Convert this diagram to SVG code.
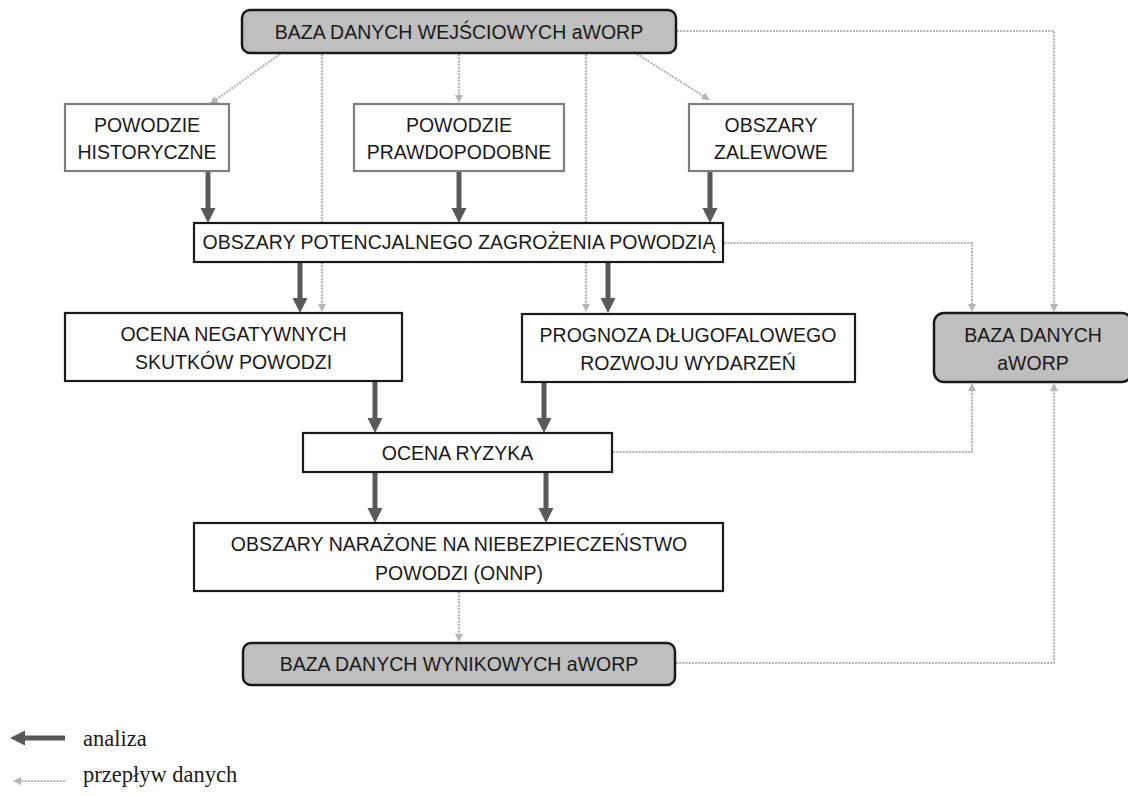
<svg xmlns="http://www.w3.org/2000/svg" width="1128" height="796" viewBox="0 0 1128 796">
<style>
.t{font-family:"Liberation Sans",Arial,sans-serif;font-size:19.5px;fill:#1a1a1a;text-anchor:middle}
.lg{font-family:"Liberation Serif","Times New Roman",serif;font-size:22.5px;fill:#1a1a1a}
.db{fill:#bfbfbf;stroke:#1a1a1a;stroke-width:2.5}
.bk{fill:#fff;stroke:#1a1a1a;stroke-width:2.2}
.gr{fill:#fff;stroke:#808080;stroke-width:2.2}
.an{fill:none;stroke:#595959;stroke-width:5;marker-end:url(#ah)}
.df{fill:none;stroke:#b5b5b5;stroke-width:2.2;stroke-dasharray:2 1.2;marker-end:url(#dh)}
</style>
<defs>
<marker id="ah" markerUnits="userSpaceOnUse" markerWidth="16" markerHeight="16" refX="1" refY="7.5" orient="auto">
<path d="M0,0 L15,7.5 L0,15 z" fill="#595959"/>
</marker>
<marker id="dh" markerUnits="userSpaceOnUse" markerWidth="10" markerHeight="10" refX="1" refY="4" orient="auto">
<path d="M0,0 L8,4 L0,8 z" fill="#b5b5b5"/>
</marker>
</defs>
<rect width="1128" height="796" fill="#fff"/>
<g id="connectors">
<line class="df" x1="280" y1="54" x2="215.5" y2="100"/>
<line class="df" x1="322" y1="54" x2="322" y2="305"/>
<line class="df" x1="459" y1="54" x2="459" y2="96"/>
<line class="df" x1="586" y1="54" x2="586" y2="305"/>
<line class="df" x1="637" y1="54" x2="704" y2="96.5"/>
<polyline class="df" points="677,31 1054,31 1054,305"/>
<polyline class="df" points="724,243 972,243 972,305"/>
<polyline class="df" points="613,452 972,452 972,390"/>
<line class="df" x1="459" y1="592" x2="459" y2="635"/>
<polyline class="df" points="676,663 1054,663 1054,390"/>
<line class="an" x1="208" y1="172" x2="208" y2="209"/>
<line class="an" x1="459" y1="172" x2="459" y2="209"/>
<line class="an" x1="710" y1="172" x2="710" y2="209"/>
<line class="an" x1="300" y1="263" x2="300" y2="299"/>
<line class="an" x1="608" y1="263" x2="608" y2="299"/>
<line class="an" x1="375" y1="382" x2="375" y2="419"/>
<line class="an" x1="544" y1="383" x2="544" y2="419"/>
<line class="an" x1="375" y1="473" x2="375" y2="509"/>
<line class="an" x1="546" y1="473" x2="546" y2="509"/>
</g>
<g id="n-input">
<rect class="db" x="242" y="10" width="434" height="43" rx="8"/>
<text class="t" x="459" y="39">BAZA DANYCH WEJŚCIOWYCH aWORP</text>
</g>
<g id="n-hist">
<rect class="gr" x="65" y="104" width="164" height="67"/>
<text class="t" x="147" y="132">POWODZIE</text>
<text class="t" x="147" y="159">HISTORYCZNE</text>
</g>
<g id="n-prawd">
<rect class="gr" x="354" y="104" width="210" height="67"/>
<text class="t" x="459" y="132">POWODZIE</text>
<text class="t" x="459" y="159">PRAWDOPODOBNE</text>
</g>
<g id="n-zalew">
<rect class="gr" x="689" y="104" width="164" height="67"/>
<text class="t" x="771" y="132">OBSZARY</text>
<text class="t" x="771" y="159">ZALEWOWE</text>
</g>
<g id="n-opzp">
<rect class="bk" x="194" y="223" width="529" height="39"/>
<text class="t" x="459" y="249">OBSZARY POTENCJALNEGO ZAGROŻENIA POWODZIĄ</text>
</g>
<g id="n-ocena-neg">
<rect class="bk" x="65" y="313" width="337" height="68"/>
<text class="t" x="233.5" y="341">OCENA NEGATYWNYCH</text>
<text class="t" x="233.5" y="369">SKUTKÓW POWODZI</text>
</g>
<g id="n-prognoza">
<rect class="bk" x="522" y="314" width="333" height="68"/>
<text class="t" x="688" y="342">PROGNOZA DŁUGOFALOWEGO</text>
<text class="t" x="688" y="370">ROZWOJU WYDARZEŃ</text>
</g>
<g id="n-db">
<rect class="db" x="934" y="313" width="198" height="69" rx="10"/>
<text class="t" x="1033" y="342">BAZA DANYCH</text>
<text class="t" x="1033" y="370">aWORP</text>
</g>
<g id="n-ryzyko">
<rect class="bk" x="303" y="433" width="309" height="39"/>
<text class="t" x="457.5" y="460">OCENA RYZYKA</text>
</g>
<g id="n-onnp">
<rect class="bk" x="194" y="523" width="529" height="68"/>
<text class="t" x="459" y="551">OBSZARY NARAŻONE NA NIEBEZPIECZEŃSTWO</text>
<text class="t" x="459" y="580">POWODZI (ONNP)</text>
</g>
<g id="n-output">
<rect class="db" x="243" y="643" width="432" height="42" rx="8"/>
<text class="t" x="459" y="671">BAZA DANYCH WYNIKOWYCH aWORP</text>
</g>
<g id="legend">
<line class="an" x1="65" y1="738" x2="24" y2="738"/>
<text class="lg" x="83" y="746">analiza</text>
<line class="df" x1="65" y1="781" x2="20" y2="781"/>
<text class="lg" x="83" y="782">przepływ danych</text>
</g>
</svg>
